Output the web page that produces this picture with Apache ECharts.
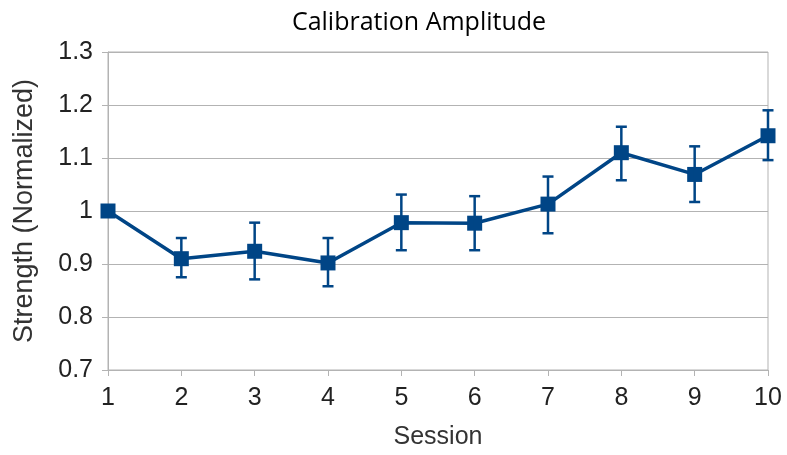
<!DOCTYPE html>
<html><head><meta charset="utf-8">
<script src="https://cdn.jsdelivr.net/npm/echarts@6/dist/echarts.min.js"></script>
<style>html,body{margin:0;padding:0;background:#fff}#c{width:787px;height:455px}</style>
</head><body><div id="c"></div>
<script>
var sessions = [1,2,3,4,5,6,7,8,9,10];
var strength = [1.0,0.910,0.924,0.902,0.978,0.977,1.013,1.110,1.069,1.142];
var errLow  = [1.0,0.875,0.871,0.858,0.926,0.926,0.958,1.058,1.017,1.096];
var errHigh = [1.0,0.949,0.978,0.949,1.031,1.028,1.065,1.159,1.122,1.190];
var yTicks = [0.7,0.8,0.9,1.0,1.1,1.2,1.3];

var color = '#004586';
var font = "'Liberation Sans',Arial,sans-serif";
var lineData = sessions.map(function(s,i){return [s,strength[i]];});
var errData = sessions.map(function(s,i){return [s,errLow[i],errHigh[i]];});

var chart = echarts.init(document.getElementById('c'), null, {renderer:'canvas'});
chart.setOption({
  animation:false,
  title:{text:'Calibration Amplitude', left:414, textAlign:'center', top:5,
    textStyle:{fontFamily:"'Open Sans','Noto Sans',sans-serif", fontWeight:'normal', fontSize:25, color:'#000'}},
  grid:{left:108, right:19, top:52, bottom:83, show:true, borderColor:'#b3b3b3', borderWidth:1},
  xAxis:{type:'value', min:1, max:10, interval:1,
    name:'Session', nameLocation:'middle', nameGap:55,
    nameTextStyle:{fontFamily:font, fontSize:25, color:'#333'},
    axisLine:{show:true, lineStyle:{color:'#b3b3b3'}},
    axisTick:{show:true, length:6, lineStyle:{color:'#b3b3b3'}},
    axisLabel:{fontFamily:font, fontSize:25, color:'#222', margin:16,
      formatter:function(v){return sessions.indexOf(v)>=0?String(v):'';}},
    splitLine:{show:false}},
  yAxis:{type:'value', min:0.7, max:1.3, interval:0.1,
    name:'Strength (Normalized)', nameLocation:'middle', nameGap:70, nameRotate:90,
    nameTextStyle:{fontFamily:font, fontSize:27, color:'#333'},
    axisLine:{show:true, lineStyle:{color:'#b3b3b3'}},
    axisTick:{show:true, length:6, lineStyle:{color:'#b3b3b3'}},
    axisLabel:{fontFamily:font, fontSize:25, color:'#222', margin:15,
      formatter:function(v){
        var r=Math.round(v*10)/10;
        for(var i=0;i<yTicks.length;i++){ if(Math.abs(yTicks[i]-r)<1e-6) return r===1?'1':r.toFixed(1); }
        return '';}},
    splitLine:{show:true, lineStyle:{color:'#b3b3b3'}}},
  series:[
    {type:'line', data:lineData, symbol:'rect', symbolSize:15, z:3,
     lineStyle:{color:color, width:3.5}, itemStyle:{color:color}},
    {type:'custom', data:errData, z:4,
     renderItem:function(params, api){
       var x=api.value(0), lo=api.value(1), hi=api.value(2);
       if(Math.abs(hi-lo)<1e-9) return null;
       var pLo=api.coord([x,lo]), pHi=api.coord([x,hi]);
       var cw=11;
       var st={stroke:color, lineWidth:2.5};
       return {type:'group', children:[
         {type:'line', shape:{x1:pLo[0],y1:pLo[1],x2:pHi[0],y2:pHi[1]}, style:st},
         {type:'line', shape:{x1:pLo[0]-cw/2,y1:pLo[1],x2:pLo[0]+cw/2,y2:pLo[1]}, style:st},
         {type:'line', shape:{x1:pHi[0]-cw/2,y1:pHi[1],x2:pHi[0]+cw/2,y2:pHi[1]}, style:st}
       ]};
     }}
  ]
});
</script></body></html>
